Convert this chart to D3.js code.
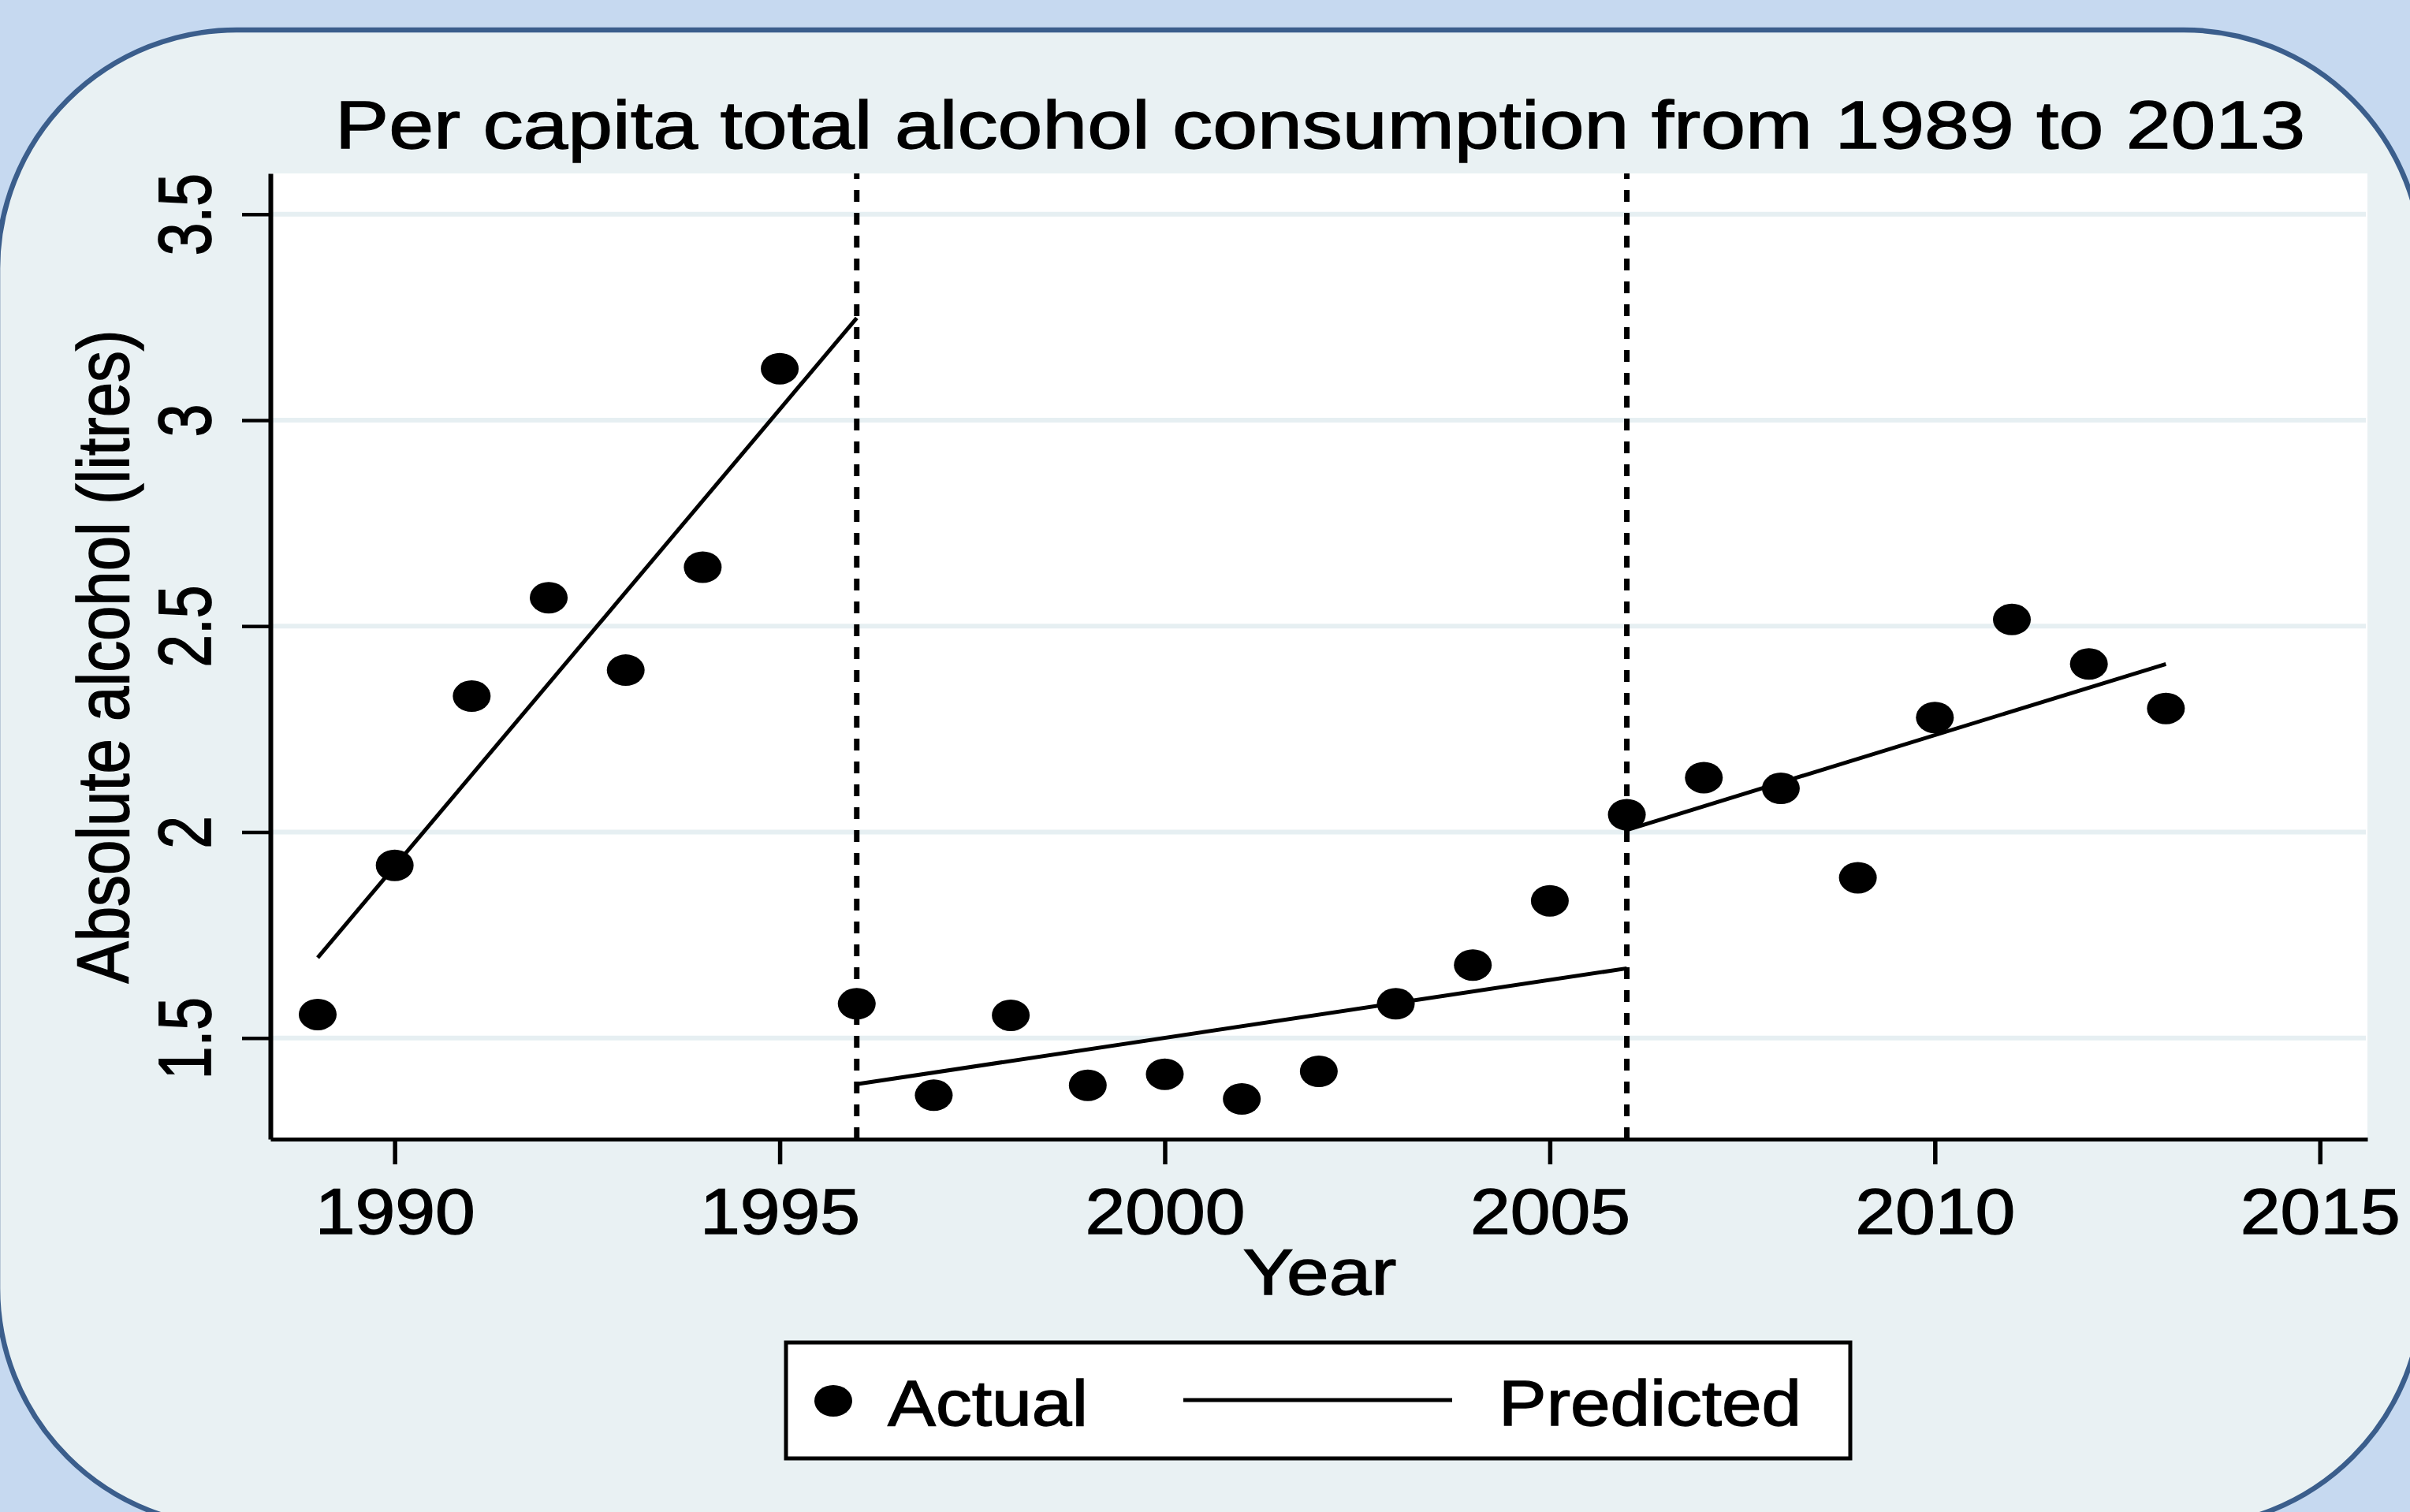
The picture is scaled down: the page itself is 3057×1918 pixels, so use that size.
<!DOCTYPE html>
<html><head><meta charset="utf-8">
<script src="https://cdn.jsdelivr.net/npm/d3@7"></script>
<style>html,body{margin:0;padding:0;background:#c6d9f0;overflow:hidden}</style>
</head><body>
<svg id="chart" width="3057" height="1918" xmlns="http://www.w3.org/2000/svg"></svg>
<script>
// ---- data ----
const years = [1989,1990,1991,1992,1993,1994,1995,1996,1997,1998,1999,2000,2001,2002,2003,2004,2005,2006,2007,2008,2009,2010,2011,2012,2013];
const actual = [1.557,1.919,2.330,2.569,2.393,2.643,3.125,1.583,1.361,1.555,1.385,1.412,1.352,1.419,1.583,1.677,1.833,2.042,2.132,2.106,1.889,2.278,2.516,2.408,2.300];
const segmentYears = [[1989,1996],[1996,2006],[2006,2013]];
const segmentPredicted = [[1.695,3.248],[1.388,1.669],[2.005,2.408]];
const breakYears = [1996,2006];
const xTicks = [1990,1995,2000,2005,2010,2015];
const yTicks = [1.5,2,2.5,3,3.5];
const yTickLabels = ["1.5","2","2.5","3","3.5"];
const titleText = "Per capita total alcohol consumption from 1989 to 2013";
const xTitle = "Year";
const yTitle = "Absolute alcohol (litres)";
const legendLabels = ["Actual","Predicted"];

// ---- layout ----
const FONT = "'Liberation Sans', Arial, Helvetica, sans-serif";
const TXT_STROKE = 1.3;
const W = 3057, H = 1918;
const plot = {left:343, right:3003, top:220, bottom:1445};
const svg = d3.select("#chart");

const x = d3.scaleLinear().domain([1988.386, 2015.617]).range([plot.left, plot.right]);
const y = d3.scaleLinear().domain([1.2544, 3.599]).range([plot.bottom, plot.top]);

function ink(sel){ return sel.attr("fill","#000").attr("stroke","#000").attr("stroke-width",TXT_STROKE); }

// background + rounded panel
svg.append("rect").attr("x",0).attr("y",0).attr("width",W).attr("height",H).attr("fill","#c6d9f0");
svg.append("rect").attr("x",-3).attr("y",38).attr("width",3076).attr("height",1899)
  .attr("rx",303).attr("ry",303).attr("fill","#e9f1f3").attr("stroke","#3b5e8c").attr("stroke-width",6.5);

// plot area
svg.append("rect").attr("x",plot.left).attr("y",plot.top)
  .attr("width",plot.right-plot.left).attr("height",plot.bottom-plot.top).attr("fill","#ffffff");

// gridlines
svg.append("g").selectAll("line").data(yTicks).join("line")
  .attr("x1",plot.left+3).attr("x2",plot.right-2)
  .attr("y1",d=>y(d)).attr("y2",d=>y(d))
  .attr("stroke","#e6eff2").attr("stroke-width",6);

// dashed break lines
svg.append("g").selectAll("line").data(breakYears).join("line")
  .attr("x1",d=>x(d)).attr("x2",d=>x(d))
  .attr("y1",plot.bottom).attr("y2",plot.top)
  .attr("stroke","#000").attr("stroke-width",7).attr("stroke-dasharray","15,14");

// predicted segments
const line = d3.line().x(d=>x(d[0])).y(d=>y(d[1]));
svg.append("g").selectAll("path").data(segmentYears.map((s,i)=>[[s[0],segmentPredicted[i][0]],[s[1],segmentPredicted[i][1]]]))
  .join("path").attr("d",line).attr("fill","none").attr("stroke","#000").attr("stroke-width",5);

// actual points
svg.append("g").selectAll("ellipse").data(years.map((yr,i)=>[yr,actual[i]])).join("ellipse")
  .attr("cx",d=>x(d[0])).attr("cy",d=>y(d[1])).attr("rx",24).attr("ry",20).attr("fill","#000");

// x axis
const gx = svg.append("g").attr("transform",`translate(0,${plot.bottom})`)
  .call(d3.axisBottom(x).tickValues(xTicks).tickSize(32).tickSizeOuter(0).tickFormat(d3.format("d")));
gx.select(".domain").attr("stroke","#000").attr("stroke-width",5);
gx.selectAll(".tick line").attr("stroke","#000").attr("stroke-width",5.5);
ink(gx.selectAll(".tick text").attr("y",120).attr("dy",0)
  .attr("font-family",FONT).attr("font-size",81)
  .attr("textLength",203).attr("lengthAdjust","spacingAndGlyphs"));

// y axis
const gy = svg.append("g").attr("transform",`translate(${plot.left},0)`)
  .call(d3.axisLeft(y).tickValues(yTicks).tickSize(36).tickSizeOuter(0).tickFormat((d,i)=>yTickLabels[i]));
gy.select(".domain").attr("stroke","#000").attr("stroke-width",6);
gy.selectAll(".tick line").attr("stroke","#000").attr("stroke-width",4.5);
ink(gy.selectAll(".tick text").attr("x",0).attr("y",0).attr("dy",0)
  .attr("transform","translate(-76,0) rotate(-90) scale(1,1.27)")
  .attr("text-anchor","middle")
  .attr("font-family",FONT).attr("font-size",75));

// title
ink(svg.append("text").attr("x",1674.5).attr("y",188).attr("text-anchor","middle")
  .attr("font-family",FONT).attr("font-size",86)
  .attr("textLength",2499).attr("lengthAdjust","spacingAndGlyphs").text(titleText));

// axis titles
ink(svg.append("text").attr("x",1674).attr("y",1642).attr("text-anchor","middle")
  .attr("font-family",FONT).attr("font-size",82)
  .attr("textLength",195).attr("lengthAdjust","spacingAndGlyphs").text(xTitle));
ink(svg.append("text").attr("transform","translate(163,833) rotate(-90) scale(1,1.17)")
  .attr("text-anchor","middle").attr("font-family",FONT).attr("font-size",80)
  .attr("textLength",829).attr("lengthAdjust","spacingAndGlyphs").text(yTitle));

// legend
const lg = svg.append("g");
lg.append("rect").attr("x",997).attr("y",1703).attr("width",1350).attr("height",147)
  .attr("fill","#fff").attr("stroke","#000").attr("stroke-width",5);
lg.append("ellipse").attr("cx",1057).attr("cy",1777).attr("rx",24).attr("ry",20).attr("fill","#000");
ink(lg.append("text").attr("x",1126).attr("y",1808).attr("font-family",FONT).attr("font-size",81)
  .attr("textLength",254).attr("lengthAdjust","spacingAndGlyphs").text(legendLabels[0]));
lg.append("line").attr("x1",1501).attr("x2",1842).attr("y1",1776).attr("y2",1776)
  .attr("stroke","#000").attr("stroke-width",5);
ink(lg.append("text").attr("x",1901).attr("y",1808).attr("font-family",FONT).attr("font-size",81)
  .attr("textLength",384).attr("lengthAdjust","spacingAndGlyphs").text(legendLabels[1]));
</script>
</body></html>
